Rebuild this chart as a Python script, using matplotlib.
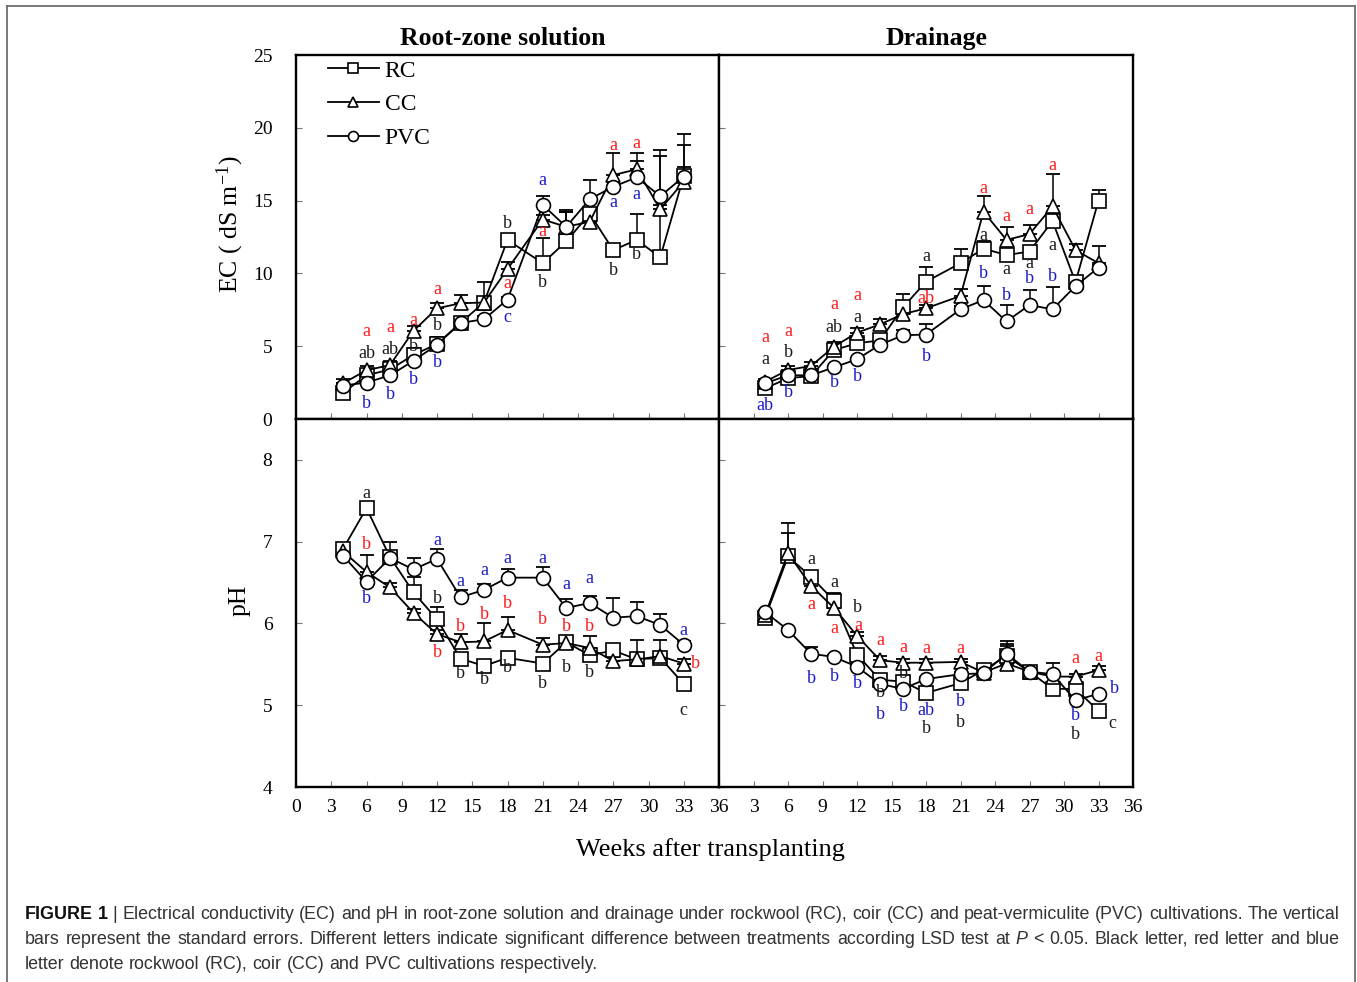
import numpy as np
import matplotlib
matplotlib.use("Agg")
import matplotlib.pyplot as plt
from matplotlib import font_manager as fm
from matplotlib.lines import Line2D

# ---------------- data ----------------
weeks = [4, 6, 8, 10, 12, 14, 16, 18, 21, 23, 25, 27, 29, 31, 33]
treatments = ["RC", "CC", "PVC"]

# EC, root-zone solution
ec_root_rc = [1.8, 3.0, 3.4, 4.4, 5.15, 6.6, 8.0, 12.3, 10.7, 12.2, 14.1, 11.6, 12.3, 11.1, 16.7]
ec_root_cc = [2.45, 3.35, 3.7, 6.06, 7.6, 7.95, 8.0, 10.3, 13.7, 13.2, 13.55, 16.75, 17.15, 14.4, 16.3]
ec_root_pvc = [2.3, 2.5, 3.0, 4.0, 5.1, 6.6, 6.85, 8.2, 14.7, 13.2, 15.1, 15.95, 16.6, 15.3, 16.65]
ec_root_rc_se = [0.3, 0.2, 0.3, 0.5, 0.5, 0.2, 1.4, 0.3, 1.7, 2.0, 0.3, 0.3, 1.8, 7.4, 2.9]
ec_root_cc_se = [0.3, 0.3, 0.3, 0.3, 0.4, 0.55, 0.3, 0.5, 0.3, 1.0, 0.3, 1.55, 1.15, 0.3, 2.5]
ec_root_pvc_se = [0.2, 0.2, 0.2, 0.2, 0.5, 0.2, 0.2, 0.2, 0.6, 1.15, 1.3, 0.3, 1.1, 2.75, 0.65]

# EC, drainage
ec_drain_rc = [2.1, 2.8, 2.95, 4.74, 5.2, 5.4, 7.67, 9.43, 10.7, 11.7, 11.26, 11.5, 13.6, 9.4, 15.0]
ec_drain_cc = [2.56, 3.37, 3.64, 4.97, 5.93, 6.5, 7.2, 7.6, 8.45, 14.24, 12.3, 12.7, 14.6, 11.6, 10.7]
ec_drain_pvc = [2.45, 3.0, 3.0, 3.55, 4.1, 5.1, 5.75, 5.8, 7.53, 8.17, 6.7, 7.83, 7.53, 9.13, 10.4]
ec_drain_rc_se = [0.2, 0.2, 0.2, 0.3, 0.3, 0.2, 0.9, 1.0, 1.0, 0.55, 0.3, 0.3, 0.3, 0.3, 0.7]
ec_drain_cc_se = [0.2, 0.3, 0.3, 0.3, 0.3, 0.4, 0.2, 0.2, 0.45, 1.05, 0.9, 0.6, 2.2, 0.4, 1.2]
ec_drain_pvc_se = [0.1, 0.1, 0.1, 0.1, 0.1, 0.2, 0.35, 0.7, 0.2, 0.95, 1.1, 1.05, 1.55, 0.2, 0.2]

# pH, root-zone solution
ph_root_rc = [6.91, 7.41, 6.81, 6.38, 6.05, 5.57, 5.48, 5.58, 5.51, 5.77, 5.61, 5.67, 5.56, 5.58, 5.26]
ph_root_cc = [6.88, 6.63, 6.44, 6.13, 5.87, 5.77, 5.78, 5.92, 5.74, 5.76, 5.70, 5.54, 5.56, 5.60, 5.51]
ph_root_pvc = [6.83, 6.51, 6.80, 6.66, 6.79, 6.32, 6.41, 6.56, 6.56, 6.19, 6.25, 6.07, 6.09, 5.98, 5.74]
ph_root_rc_se = [0.05, 0.05, 0.18, 0.19, 0.15, 0.05, 0.05, 0.05, 0.05, 0.05, 0.05, 0.05, 0.05, 0.05, 0.05]
ph_root_cc_se = [0.05, 0.21, 0.05, 0.05, 0.05, 0.1, 0.22, 0.16, 0.08, 0.05, 0.15, 0.05, 0.24, 0.2, 0.05]
ph_root_pvc_se = [0.05, 0.05, 0.05, 0.14, 0.12, 0.09, 0.07, 0.1, 0.13, 0.11, 0.09, 0.24, 0.17, 0.14, 0.05]

# pH, drainage
ph_drain_rc = [6.07, 6.82, 6.57, 6.28, 5.62, 5.31, 5.29, 5.15, 5.27, 5.43, 5.60, 5.41, 5.20, 5.20, 4.93]
ph_drain_cc = [6.10, 6.86, 6.46, 6.19, 5.85, 5.55, 5.52, 5.52, 5.53, 5.40, 5.51, 5.41, 5.35, 5.35, 5.43]
ph_drain_pvc = [6.14, 5.92, 5.63, 5.59, 5.47, 5.26, 5.20, 5.32, 5.38, 5.39, 5.63, 5.41, 5.38, 5.06, 5.14]
ph_drain_rc_se = [0.02, 0.28, 0.05, 0.09, 0.05, 0.03, 0.03, 0.03, 0.03, 0.03, 0.12, 0.03, 0.03, 0.03, 0.03]
ph_drain_cc_se = [0.02, 0.37, 0.05, 0.05, 0.05, 0.05, 0.04, 0.04, 0.04, 0.03, 0.24, 0.03, 0.03, 0.03, 0.05]
ph_drain_pvc_se = [0.02, 0.02, 0.08, 0.03, 0.03, 0.03, 0.03, 0.03, 0.03, 0.03, 0.15, 0.03, 0.14, 0.03, 0.03]

# significance letters: (week, y, letter, colour key)
letters_ec_root = [
    (6, 6.0, "a", "r"), (6, 4.5, "ab", "k"), (6, 1.08, "b", "b"),
    (8, 6.3, "a", "r"), (8, 4.8, "ab", "k"), (8, 1.7, "b", "b"),
    (10, 6.75, "a", "r"), (10, 5.0, "b", "k"), (10, 2.7, "b", "b"),
    (12, 8.86, "a", "r"), (12, 6.4, "b", "k"), (12, 3.9, "b", "b"),
    (18, 13.4, "b", "k"), (18, 9.3, "a", "r"), (18, 7.0, "c", "b"),
    (21, 16.4, "a", "b"), (21, 12.9, "a", "r"), (21, 9.4, "b", "k"),
    (27, 18.75, "a", "r"), (27, 14.9, "a", "b"), (27, 10.2, "b", "k"),
    (29, 18.9, "a", "r"), (29, 15.45, "a", "b"), (29, 11.3, "b", "k"),
]
letters_ec_drain = [
    (4, 5.6, "a", "r"), (4, 4.1, "a", "k"), (4, 0.9, "ab", "b"),
    (6, 6.0, "a", "r"), (6, 4.6, "b", "k"), (6, 1.8, "b", "b"),
    (10, 7.83, "a", "r"), (10, 6.3, "ab", "k"), (10, 2.5, "b", "b"),
    (12, 8.45, "a", "r"), (12, 7.0, "a", "k"), (12, 2.95, "b", "b"),
    (18, 11.15, "a", "k"), (18, 8.3, "ab", "r"), (18, 4.3, "b", "b"),
    (23, 15.85, "a", "r"), (23, 12.6, "a", "k"), (23, 9.96, "b", "b"),
    (25, 13.9, "a", "r"), (25, 10.3, "a", "k"), (25, 8.45, "b", "b"),
    (27, 14.4, "a", "r"), (27, 10.7, "a", "k"), (27, 9.65, "b", "b"),
    (29, 17.4, "a", "r"), (29, 11.9, "a", "k"), (29, 9.8, "b", "b"),
]
letters_ph_root = [
    (6, 7.59, "a", "k"), (6, 6.96, "b", "r"), (6, 6.31, "b", "b"),
    (12, 7.02, "a", "b"), (12, 6.31, "b", "k"), (12, 5.65, "b", "r"),
    (14, 6.51, "a", "b"), (14, 5.96, "b", "r"), (14, 5.39, "b", "k"),
    (16, 6.65, "a", "b"), (16, 6.11, "b", "r"), (16, 5.31, "b", "k"),
    (18, 6.8, "a", "b"), (18, 6.25, "b", "r"), (18, 5.46, "b", "k"),
    (21, 6.8, "a", "b"), (21, 6.05, "b", "r"), (21, 5.26, "b", "k"),
    (23, 6.48, "a", "b"), (23, 5.96, "b", "r"), (23, 5.46, "b", "k"),
    (25, 6.55, "a", "b"), (25, 5.96, "b", "r"), (25, 5.40, "b", "k"),
    (33, 5.91, "a", "b"), (34.0, 5.51, "b", "r"), (33, 4.93, "c", "k"),
]
letters_ph_drain = [
    (8, 6.78, "a", "k"), (8, 6.23, "a", "r"), (8, 5.33, "b", "b"),
    (10, 6.5, "a", "k"), (10, 5.94, "a", "r"), (10, 5.35, "b", "b"),
    (12, 6.2, "b", "k"), (12.1, 5.98, "a", "r"), (12, 5.26, "b", "b"),
    (14, 5.79, "a", "r"), (14, 5.15, "b", "k"), (14, 4.89, "b", "b"),
    (16, 5.71, "a", "r"), (16, 5.39, "b", "k"), (16, 4.98, "b", "b"),
    (18, 5.69, "a", "r"), (18, 4.94, "ab", "b"), (18, 4.72, "b", "k"),
    (21, 5.69, "a", "r"), (21, 5.04, "b", "b"), (21, 4.79, "b", "k"),
    (31, 5.57, "a", "r"), (31, 4.88, "b", "b"), (31, 4.64, "b", "k"),
    (33, 5.60, "a", "r"), (34.4, 5.2, "b", "b"), (34.2, 4.78, "c", "k"),
]

panel_titles = ["Root-zone solution", "Drainage"]
x_label = "Weeks after transplanting"
ec_label = r"EC ( dS m$^{\mathrm{-1}}$)"
ph_label = "pH"
x_ticks = list(range(0, 37, 3))
ec_ticks = [0, 5, 10, 15, 20, 25]
ph_ticks = [4, 5, 6, 7, 8]

caption_lines = [
    "Electrical conductivity (EC) and pH in root-zone solution and drainage under rockwool (RC), coir (CC) and peat-vermiculite (PVC) cultivations. The vertical",
    "bars represent the standard errors. Different letters indicate significant difference between treatments according LSD test at",
    "letter denote rockwool (RC), coir (CC) and PVC cultivations respectively.",
]

# ---------------- style ----------------
SERIF = ["Liberation Serif", "DejaVu Serif"]
plt.rcParams["font.family"] = SERIF
plt.rcParams["mathtext.fontset"] = "custom"
plt.rcParams["mathtext.rm"] = "Liberation Serif"
plt.rcParams["mathtext.it"] = "Liberation Serif:italic"

LETTER_COL = {"k": "#1a1a1a", "r": "#ff1a1a", "b": "#1a1acc"}
MARKERS = {"RC": ("s", 9.5), "CC": ("^", 9.5), "PVC": ("o", 10)}

W, H = 1357, 982
DPI = 100
fig = plt.figure(figsize=(W / DPI, H / DPI), dpi=DPI)


def px_rect(x0, y0, x1, y1):
    return [x0 / W, 1 - y1 / H, (x1 - x0) / W, (y1 - y0) / H]


ax_tl = fig.add_axes(px_rect(296, 55, 719, 419))
ax_tr = fig.add_axes(px_rect(719, 55, 1133, 419))
ax_bl = fig.add_axes(px_rect(296, 419, 719, 787))
ax_br = fig.add_axes(px_rect(719, 419, 1133, 787))

panels = [
    (ax_tl, (ec_root_rc, ec_root_cc, ec_root_pvc), (ec_root_rc_se, ec_root_cc_se, ec_root_pvc_se), letters_ec_root, (0, 25), ec_ticks),
    (ax_tr, (ec_drain_rc, ec_drain_cc, ec_drain_pvc), (ec_drain_rc_se, ec_drain_cc_se, ec_drain_pvc_se), letters_ec_drain, (0, 25), ec_ticks),
    (ax_bl, (ph_root_rc, ph_root_cc, ph_root_pvc), (ph_root_rc_se, ph_root_cc_se, ph_root_pvc_se), letters_ph_root, (4, 8.5), ph_ticks),
    (ax_br, (ph_drain_rc, ph_drain_cc, ph_drain_pvc), (ph_drain_rc_se, ph_drain_cc_se, ph_drain_pvc_se), letters_ph_drain, (4, 8.5), ph_ticks),
]

for i, (ax, series, ses, lets, ylim, yticks) in enumerate(panels):
    x = np.array(weeks, dtype=float)
    for name, ys, se in zip(treatments, series, ses):
        ys = np.array(ys)
        se = np.array(se)
        ax.errorbar(x, ys, yerr=[np.zeros_like(se), se], fmt="none", ecolor="black",
                    elinewidth=1.1, capsize=5, capthick=1.3, zorder=2)
        m, ms = MARKERS[name]
        ax.plot(x, ys, color="black", lw=1.3, marker=m, ms=ms, mfc="white",
                mec="black", mew=1.2, zorder=3, label=name)
    for (wk, yv, txt, c) in lets:
        ax.text(wk, yv, txt, color=LETTER_COL[c], fontsize=13, ha="center",
                va="center", zorder=5)
    ax.set_xlim(0, 36)
    ax.set_ylim(*ylim)
    ax.set_xticks(x_ticks)
    ax.set_yticks(yticks)
    for sp in ax.spines.values():
        sp.set_linewidth(1.7)
        sp.set_color("black")
    ax.tick_params(direction="in", length=4, width=0.8, color="#777777",
                   labelsize=14, right=False, top=False)
    ax.tick_params(axis="y", pad=17)
    ax.tick_params(axis="x", pad=9)
    left = (i % 2 == 0)
    bottom = (i >= 2)
    if not left:
        ax.set_yticklabels([])
    if not bottom:
        ax.set_xticklabels([])
    else:
        if left:
            ax.set_xticklabels([str(t) for t in x_ticks])
        else:
            ax.set_xticklabels([""] + [str(t) for t in x_ticks[1:]])

ax_tl.set_title(panel_titles[0], fontsize=18.5, fontweight="bold", pad=7,
                x=(503 - 296) / 423)
ax_tr.set_title(panel_titles[1], fontsize=18.5, fontweight="bold", pad=7,
                x=(936 - 719) / 414)

leg = ax_tl.legend(loc="upper left", bbox_to_anchor=(32 / 423, 1 - 5 / 364),
                   frameon=False, fontsize=17, handlelength=2.15,
                   handletextpad=0.25, labelspacing=0.52, borderpad=0,
                   borderaxespad=0, markerscale=0.72)

fig.text(710 / W, 1 - 850 / H, x_label, fontsize=19, ha="center", va="center")
fig.text(230 / W, 1 - 224 / H, ec_label, fontsize=18.5, ha="center", va="center", rotation=90)
fig.text(240 / W, 1 - 600 / H, ph_label, fontsize=18.5, ha="center", va="center", rotation=90)

# outer frame
frame_kw = dict(color="#6e6e6e", lw=1.3, transform=fig.transFigure)
fig.add_artist(Line2D([7 / W, 7 / W], [0, 1 - 6 / H], **frame_kw))
fig.add_artist(Line2D([7 / W, 1355 / W], [1 - 6 / H, 1 - 6 / H], **frame_kw))
fig.add_artist(Line2D([1355 / W, 1355 / W], [0, 1 - 6 / H], **frame_kw))

# ---------------- caption ----------------
def font_ok(name):
    try:
        fm.findfont(fm.FontProperties(family=name), fallback_to_default=False)
        return True
    except Exception:
        return False

CAP_FAM = "Liberation Sans Narrow" if font_ok("Liberation Sans Narrow") else "Liberation Sans"
CAP_COL = "#333333"
renderer = fig.canvas.get_renderer()


def measure(txt, fs, **kw):
    t = fig.text(0, 0, txt, fontsize=fs, family=CAP_FAM, **kw)
    w = t.get_window_extent(renderer=renderer).width
    t.remove()
    return w


line1_words = [("FIGURE", "bold"), ("1", "bold"), ("|", "normal")] + \
    [(w, "normal") for w in caption_lines[0].split()]
line2_words = [(w, "normal") for w in caption_lines[1].split()] + \
    [("P", "italic"), ("<", "normal"), ("0.05.", "normal")] + \
    [(w, "normal") for w in "Black letter, red letter and blue".split()]
line3_words = [(w, "normal") for w in caption_lines[2].split()]


def props(style):
    if style == "bold":
        return dict(fontweight="bold", color="#111111")
    if style == "italic":
        return dict(fontstyle="italic", color=CAP_COL)
    return dict(color=CAP_COL)


fs0 = 12.0
sp0 = measure("a a", fs0) - measure("aa", fs0)
nat = sum(measure(w, fs0, **props(s)) for w, s in line1_words) + sp0 * (len(line1_words) - 1)
X0, X1 = 25, 1340
FS = fs0 * (X1 - X0) / nat
SP = measure("a a", FS) - measure("aa", FS)


def draw_line(words, y_base, justify):
    widths = [measure(w, FS, **props(s)) for w, s in words]
    gap = (X1 - X0 - sum(widths)) / (len(words) - 1) if justify else SP
    x = X0
    for (w, s), wd in zip(words, widths):
        fig.text(x / W, 1 - y_base / H, w, fontsize=FS, family=CAP_FAM,
                 ha="left", va="baseline", **props(s))
        x += wd + gap


draw_line(line1_words, 919, True)
draw_line(line2_words, 944, True)
draw_line(line3_words, 969, False)

fig.savefig("out.png", dpi=DPI, facecolor="white")
